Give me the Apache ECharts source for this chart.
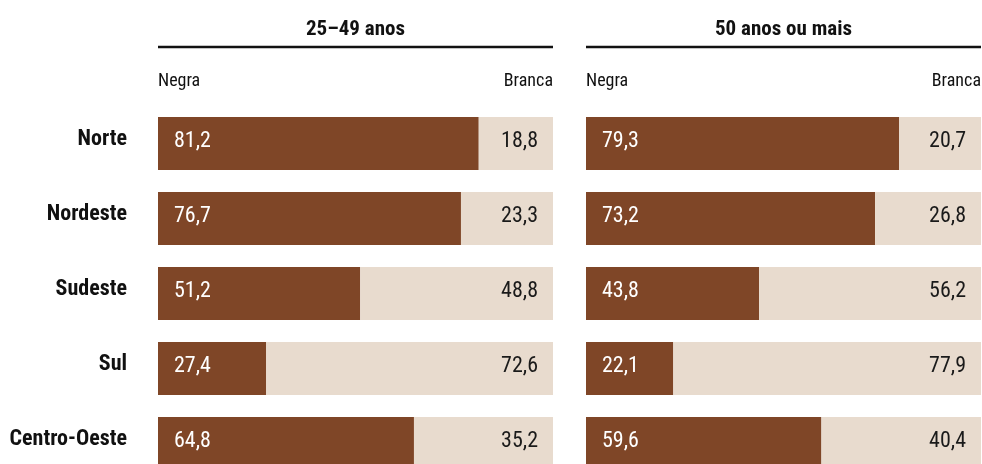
<!DOCTYPE html>
<html>
<head>
<meta charset="utf-8">
<script src="https://cdn.jsdelivr.net/npm/echarts@6/dist/echarts.min.js"></script>
<style>
  html, body { margin: 0; padding: 0; background: #fff; }
  #main { width: 982px; height: 464px; }
</style>
</head>
<body>
<div id="main"></div>
<script>
// dados
var regioes = ['Norte', 'Nordeste', 'Sudeste', 'Sul', 'Centro-Oeste'];
var grupos = ['25–49 anos', '50 anos ou mais'];
var negra2549 = [81.2, 76.7, 51.2, 27.4, 64.8];
var branca2549 = [18.8, 23.3, 48.8, 72.6, 35.2];
var negra50 = [79.3, 73.2, 43.8, 22.1, 59.6];
var branca50 = [20.7, 26.8, 56.2, 77.9, 40.4];

var FONT = "'Roboto Condensed', 'Open Sans Condensed', sans-serif";
var MARROM = '#7f4627';
var BEGE = '#e8dbce';

var myChart = echarts.init(document.getElementById('main'));

function fmt(p) {
    return p.value.toFixed(1).replace('.', ',');
}

function serie(nome, dados, idx, cor, lado) {
    return {
        name: nome,
        type: 'bar',
        stack: 'total' + idx,
        xAxisIndex: idx,
        yAxisIndex: idx,
        data: dados,
        barWidth: 53,
        silent: true,
        itemStyle: { color: cor },
        label: {
            show: true,
            position: lado,
            distance: lado === 'insideLeft' ? 16 : 15,
            offset: [0, -2],
            formatter: fmt,
            color: lado === 'insideLeft' ? '#fff' : '#1a1a1a',
            fontFamily: FONT,
            fontSize: 22
        }
    };
}

var paineis = [
    { left: 158, width: 395 },
    { left: 586, width: 395 }
];

var graficos = [];
paineis.forEach(function (p, i) {
    graficos.push({
        type: 'text',
        x: p.left + p.width / 2, y: 30,
        style: {
            text: grupos[i], font: 'bold 21px ' + FONT, fill: '#111',
            align: 'center', verticalAlign: 'middle'
        }
    });
    graficos.push({
        type: 'line',
        shape: { x1: p.left, y1: 47, x2: p.left + p.width, y2: 47 },
        style: { stroke: '#111', lineWidth: 2.5 }
    });
    graficos.push({
        type: 'text',
        x: p.left, y: 81,
        style: { text: 'Negra', font: '18px ' + FONT, fill: '#111', verticalAlign: 'middle' }
    });
    graficos.push({
        type: 'text',
        x: p.left + p.width, y: 81,
        style: { text: 'Branca', font: '18px ' + FONT, fill: '#111', align: 'right', verticalAlign: 'middle' }
    });
});

var option = {
    backgroundColor: '#fff',
    animation: false,
    grid: paineis.map(function (p) {
        return { left: p.left, width: p.width, top: 106, bottom: -17, outerBoundsMode: 'none', containLabel: false };
    }),
    xAxis: [0, 1].map(function (i) {
        return { type: 'value', gridIndex: i, min: 0, max: 100, show: false };
    }),
    yAxis: [0, 1].map(function (i) {
        return {
            type: 'category',
            gridIndex: i,
            data: regioes,
            inverse: true,
            axisLine: { show: false },
            axisTick: { show: false },
            axisLabel: {
                show: i === 0,
                margin: 31,
                verticalAlign: 'bottom',
                lineHeight: 8,
                color: '#111',
                fontFamily: FONT,
                fontWeight: 'bold',
                fontSize: 22
            }
        };
    }),
    graphic: graficos,
    series: [
        serie('Negra', negra2549, 0, MARROM, 'insideLeft'),
        serie('Branca', branca2549, 0, BEGE, 'insideRight'),
        serie('Negra', negra50, 1, MARROM, 'insideLeft'),
        serie('Branca', branca50, 1, BEGE, 'insideRight')
    ]
};

myChart.setOption(option);
</script>
</body>
</html>
